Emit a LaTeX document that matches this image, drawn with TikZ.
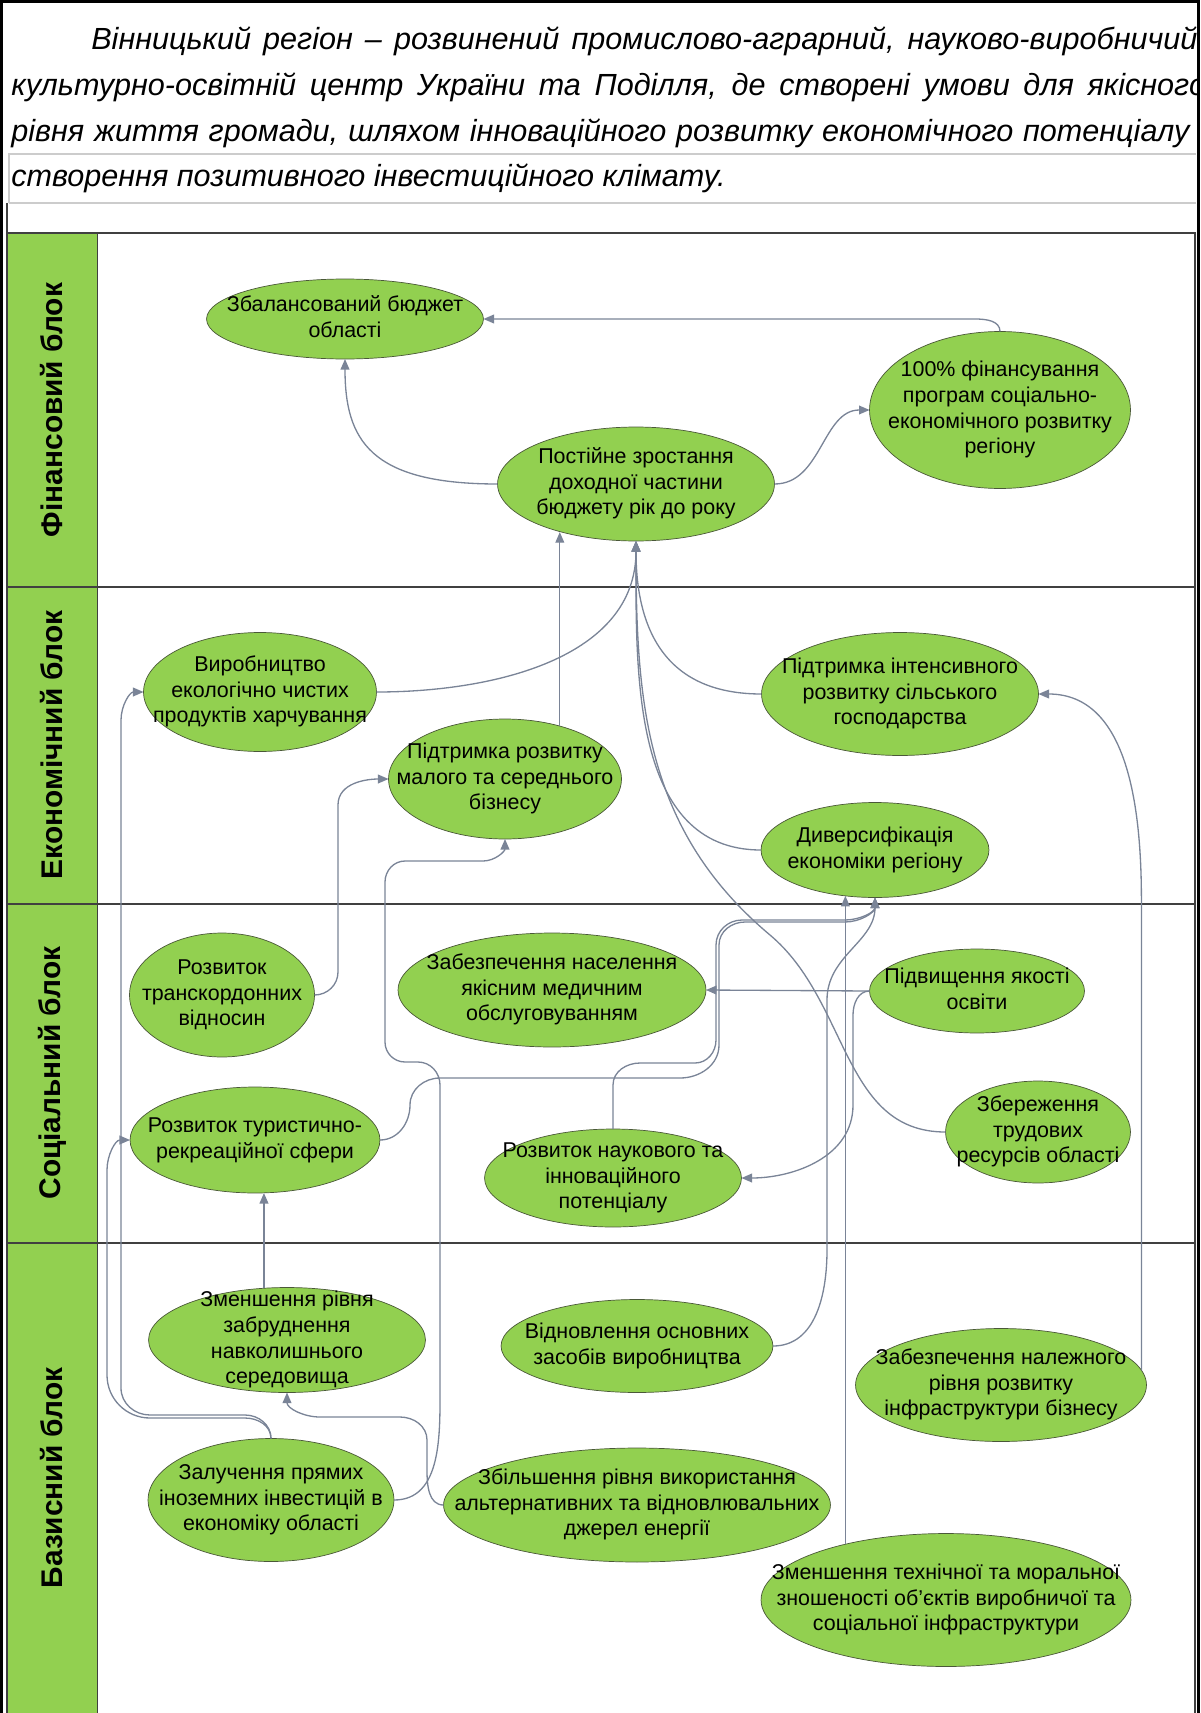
\documentclass[tikz,border=0pt]{standalone}
\usepackage{fontspec}
\setmainfont{Liberation Sans}
\usetikzlibrary{arrows.meta, shapes.geometric, calc}

\definecolor{leaf}{HTML}{92D050}
\definecolor{lnk}{HTML}{7A8497}
\definecolor{rim}{HTML}{4A5838}
\definecolor{lanecol}{HTML}{404040}
% text of a goal, kept out of the ellipse size
\newcommand{\etxt}[1]{\makebox[0pt]{\raisebox{-0.25em}[0pt][0pt]{\begin{tabular}{@{}c@{}}#1\end{tabular}}}}

\begin{document}
\begin{tikzpicture}[x=0.02cm, y=0.02cm,
  goal/.style 2 args={ellipse, draw=rim, line width=0.4pt, fill=leaf, inner sep=0pt, outer sep=0pt,
    minimum width={#1*0.569pt}, minimum height={#2*0.569pt}, font=\fontsize{12.2}{14.6}\selectfont},
  link/.style={draw=lnk, line width=0.75pt, -{Triangle[length=6pt,width=5pt]}},
  blk/.style={rotate=90, inner sep=0pt, font=\bfseries\fontsize{17}{20}\selectfont},
  ttl/.style={anchor=base west, inner sep=0pt, font=\itshape\fontsize{17.4}{20}\selectfont}]
\useasboundingbox (0,0) rectangle (1200,-1713);

% Frame and lanes
\fill[leaf] (7,-233) rectangle (97.6,-1713);
\draw[line width=2.2pt] (1.5,-1713) -- (1.5,-1.5) -- (1198.5,-1.5) -- (1198.5,-1713);
\draw[black!20, line width=1pt] (9,-203) -- (9,-154) -- (1196,-154) (9,-203) -- (1196,-203);
\draw[lanecol, line width=1.1pt] (7,-203) -- (7,-1713);
\draw[lanecol, line width=1.1pt] (7,-233) -- (1195,-233) -- (1195,-1713);
\foreach \yy in {587,904,1243}
  \draw[lanecol, line width=1.1pt] (7,-\yy) -- (1195,-\yy);
\draw[lanecol, line width=0.8pt] (97.6,-233) -- (97.6,-1713);

\node[blk] (finblk) at (52,-410) {Фінансовий блок};
\node[blk] (ecoblk) at (52,-745) {Економічний блок};
\node[blk] (socblk) at (52,-1073) {Соціальний блок};
\node[blk] (basblk) at (52,-1478) {Базисний блок};

% Title, justified and cut at the right edge
\begin{scope}
\clip (0,0) rectangle (1196,-240);
\node[ttl] (line1) at (91,-50) {\makebox[22.3cm][s]{Вінницький регіон – розвинений промислово-аграрний, науково-виробничий,}};
\node[ttl] (line2) at (11,-96) {\makebox[23.9cm][s]{культурно-освітній центр України та Поділля, де створені умови для якісного}};
\node[ttl] (line3) at (11,-142) {\makebox[23.9cm][s]{рівня життя громади, шляхом інноваційного розвитку економічного потенціалу і}};
\node[ttl] (line4) at (11,-187) {створення позитивного інвестиційного клімату.};
\end{scope}

% Financial block
\node[goal={277}{80}] (balanced) at (345,-319) {\etxt{Збалансований бюджет\\області}};
\node[goal={277}{114}] (revenue) at (636,-484) {\etxt{Постійне зростання\\доходної частини\\бюджету рік до року}};
\node[goal={261}{157}] (financing) at (1000,-410) {\etxt{100\% фінансування\\програм соціально-\\економічного розвитку\\регіону}};

% Economic block
\node[goal={233}{119}] (organic) at (260,-692) {\etxt{Виробництво\\екологічно чистих\\продуктів харчування}};
\node[goal={233}{120}] (sme) at (505,-779) {\etxt{Підтримка розвитку\\малого та середнього\\бізнесу}};
\node[goal={277}{123}] (agri) at (900,-694) {\etxt{Підтримка інтенсивного\\розвитку сільського\\господарства}};
\node[goal={228}{95}] (divers) at (875,-850) {\etxt{Диверсифікація\\економіки регіону}};

% Social block
\node[goal={185}{124}] (cross) at (222,-995) {\etxt{Розвиток\\транскордонних\\відносин}};
\node[goal={308}{114}] (medical) at (552,-990) {\etxt{Забезпечення населення\\якісним медичним\\обслуговуванням}};
\node[goal={215}{84}] (education) at (977,-991) {\etxt{Підвищення якості\\освіти}};
\node[goal={250}{106}] (tourism) at (255,-1140) {\etxt{Розвиток туристично-\\рекреаційної сфери}};
\node[goal={257}{98}] (science) at (613,-1178) {\etxt{Розвиток наукового та\\інноваційного\\потенціалу}};
\node[goal={185}{102}] (labour) at (1038,-1132) {\etxt{Збереження\\трудових\\ресурсів області}};

% Basic block
\node[goal={277}{105}] (pollution) at (287,-1340) {\etxt{Зменшення рівня\\забруднення\\навколишнього\\середовища}};
\node[goal={272}{93}] (renewal) at (637,-1346) {\etxt{Відновлення основних\\засобів виробництва}};
\node[goal={291}{113}] (infra) at (1001,-1385) {\etxt{Забезпечення належного\\рівня розвитку\\інфраструктури бізнесу}};
\node[goal={246}{123}] (fdi) at (271,-1500) {\etxt{Залучення прямих\\іноземних інвестицій в\\економіку області}};
\node[goal={387}{114}] (energy) at (637,-1505) {\etxt{Збільшення рівня використання\\альтернативних та відновлювальних\\джерел енергії}};
\node[goal={370}{133}] (wear) at (946,-1600) {\etxt{Зменшення технічної та моральної\\зношеності об’єктів виробничої та\\соціальної інфраструктури}};

% Links inside the financial block
\draw[link] (financing.north) to[out=90,in=0] (975,-319) -- (balanced.east);
\draw[link] (revenue.west) .. controls (370,-484) and (345,-440) .. (balanced.south);
\draw[link] (revenue.east) to[out=0,in=180] (financing.west);

% Links up to the revenue
\draw[link] (organic.east) to[out=0,in=-90] (revenue.south);
\draw[link] (agri.west) to[out=180,in=-90,looseness=1.2] (revenue.south);
\draw[link] (divers.west) to[out=180,in=-90] (revenue.south);
\draw[link] (labour.west) to[out=180,in=-40] (770,-935) to[out=140,in=-90] (revenue.south);
\draw[link] (sme.44) -- (sme.44 |- revenue.-147);

% Links to the economic block
\draw[link] (cross.east) to[out=0,in=-90] (338,-972) -- (338,-805) to[out=90,in=180] (sme.west);
\draw[link] (fdi.east) to[out=0,in=-90] (440,-1385) -- (440,-1085) to[out=90,in=0] (418,-1062) -- (405,-1062)
  to[out=180,in=-90] (385,-1042) -- (385,-882) to[out=90,in=180] (405,-861) -- (483,-861) to[out=0,in=-90] (sme.south);
\draw[link] (fdi.north) to[out=90,in=0] (245,-1415) -- (150,-1415) to[out=180,in=-90] (121,-1388) -- (121,-720) to[out=90,in=180] (organic.west);
\draw[link] (infra.6) -- ++(0,470) to[out=90,in=0] (agri.east);
\draw[link] (tourism.east) to[out=0,in=-90] (410,-1105) to[out=90,in=180] (440,-1078) -- (680,-1078)
  to[out=0,in=-90] (719,-1045) -- (719,-945) to[out=90,in=180] (745,-922) -- (845,-922) to[out=0,in=-90] (divers.south);
\draw[link] (science.north) -- (613,-1085) to[out=90,in=180] (640,-1063) -- (695,-1063) to[out=0,in=-90] (716,-1040)
  -- (716,-945) to[out=90,in=180] (742,-920) -- (845,-920) to[out=0,in=-90] (divers.south);
\draw[link] (renewal.east) to[out=0,in=-90] (827,-1250) -- (827,-1000) to[out=90,in=-90] (divers.south);
\draw[link] (wear.151) -- (wear.151 |- divers.-123);

% Links inside the social block
\draw[link] (education.west) -- (medical.east);
\draw[link] (education.west) to[out=180,in=90] (853,-1015) -- (853,-1105) to[out=-90,in=0] (science.east);
\draw[link] (fdi.north) to[out=90,in=0] (245,-1418) -- (150,-1418) to[out=180,in=-90] (107,-1375) -- (107,-1170) to[out=90,in=180] (tourism.west);
\draw[link] (pollution.114) -- (pollution.114 |- tourism.south);
\draw[link] (energy.west) to[out=180,in=-90] (427,-1470) -- (427,-1440) to[out=90,in=0] (400,-1417) -- (320,-1417) to[out=180,in=-90] (pollution.south);

\end{tikzpicture}
\end{document}
